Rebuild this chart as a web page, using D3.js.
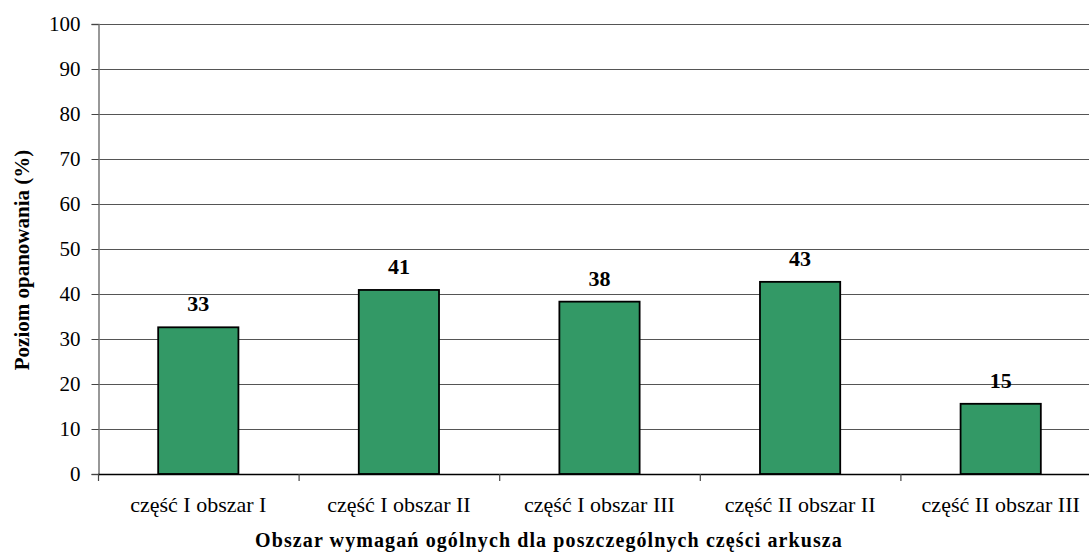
<!DOCTYPE html>
<html>
<head>
<meta charset="utf-8">
<script src="https://cdn.jsdelivr.net/npm/d3@7"></script>
<style>
  body { margin: 0; background: #fff; }
  text { font-family: "Liberation Serif", "Times New Roman", serif; fill: #000; }
</style>
</head>
<body>
<div id="main"></div>
<script>
// chart data
const categories = ["część I obszar I", "część I obszar II", "część I obszar III", "część II obszar II", "część II obszar III"];
const values = [32.6, 40.9, 38.3, 42.7, 15.6];
const valueLabels = ["33", "41", "38", "43", "15"];
const yTicks = [0, 10, 20, 30, 40, 50, 60, 70, 80, 90, 100];

const width = 1089, height = 553;
const plotLeft = 98, plotRight = 1101, plotTop = 24, plotBottom = 474;

const svg = d3.select("#main")
  .append("svg")
  .attr("width", width)
  .attr("height", height);

const x = d3.scaleBand()
  .domain(categories)
  .range([plotLeft, plotRight])
  .paddingInner(0.6)
  .paddingOuter(0.3);

const y = d3.scaleLinear()
  .domain([0, 100])
  .range([plotBottom, plotTop]);

// gridlines
svg.append("g")
  .selectAll("line")
  .data(yTicks.filter(d => d > 0))
  .enter().append("line")
  .attr("x1", plotLeft)
  .attr("x2", plotRight)
  .attr("y1", d => y(d) + 0.5)
  .attr("y2", d => y(d) + 0.5)
  .attr("stroke", "#555")
  .attr("stroke-width", 1.2);

// y axis
const yAxis = svg.append("g")
  .attr("transform", `translate(${plotLeft + 0.5},0)`)
  .call(d3.axisLeft(y).tickValues(yTicks).tickSize(7).tickPadding(11));
yAxis.select(".domain").attr("stroke", "#777").attr("stroke-width", 1.5);
yAxis.selectAll(".tick line").attr("stroke", "#444");
yAxis.selectAll("text")
  .style("font-family", "Liberation Serif, serif")
  .style("font-size", "21px");
yAxis.selectAll(".tick").attr("transform", d => `translate(0,${y(d) + 0.5})`);

// bars
svg.append("g")
  .selectAll("rect")
  .data(values)
  .enter().append("rect")
  .attr("x", (d, i) => x(categories[i]))
  .attr("y", d => y(d))
  .attr("width", x.bandwidth())
  .attr("height", d => plotBottom - y(d))
  .attr("fill", "#339966")
  .attr("stroke", "#000")
  .attr("stroke-width", 1.8);

// value labels
svg.append("g")
  .selectAll("text")
  .data(values)
  .enter().append("text")
  .attr("x", (d, i) => x(categories[i]) + x.bandwidth() / 2)
  .attr("y", d => y(d) - 16)
  .attr("text-anchor", "middle")
  .attr("font-weight", "bold")
  .attr("font-size", "22px")
  .text((d, i) => valueLabels[i]);

// x axis
const xb = d3.scaleLinear().domain([0, categories.length]).range([plotLeft, plotRight]);
svg.append("line")
  .attr("x1", plotLeft)
  .attr("x2", plotRight)
  .attr("y1", plotBottom + 0.5)
  .attr("y2", plotBottom + 0.5)
  .attr("stroke", "#000")
  .attr("stroke-width", 1.3);
svg.append("g")
  .selectAll("line")
  .data(d3.range(0, categories.length + 1))
  .enter().append("line")
  .attr("x1", d => xb(d) + 0.5)
  .attr("x2", d => xb(d) + 0.5)
  .attr("y1", plotBottom)
  .attr("y2", plotBottom + 7)
  .attr("stroke", "#444")
  .attr("stroke-width", 1.2);

svg.append("g")
  .selectAll("text")
  .data(categories)
  .enter().append("text")
  .attr("x", d => x(d) + x.bandwidth() / 2)
  .attr("y", 512)
  .attr("text-anchor", "middle")
  .attr("font-size", "22px")
  .text(d => d);

// axis titles
svg.append("text")
  .attr("x", 549)
  .attr("y", 547)
  .attr("text-anchor", "middle")
  .attr("font-weight", "bold")
  .attr("font-size", "20px")
  .attr("letter-spacing", "1.1px")
  .text("Obszar wymagań ogólnych dla poszczególnych części arkusza");

svg.append("text")
  .attr("transform", `translate(29,260) rotate(-90)`)
  .attr("text-anchor", "middle")
  .attr("font-weight", "bold")
  .attr("font-size", "21px")
  .text("Poziom opanowania (%)");
</script>
</body>
</html>
